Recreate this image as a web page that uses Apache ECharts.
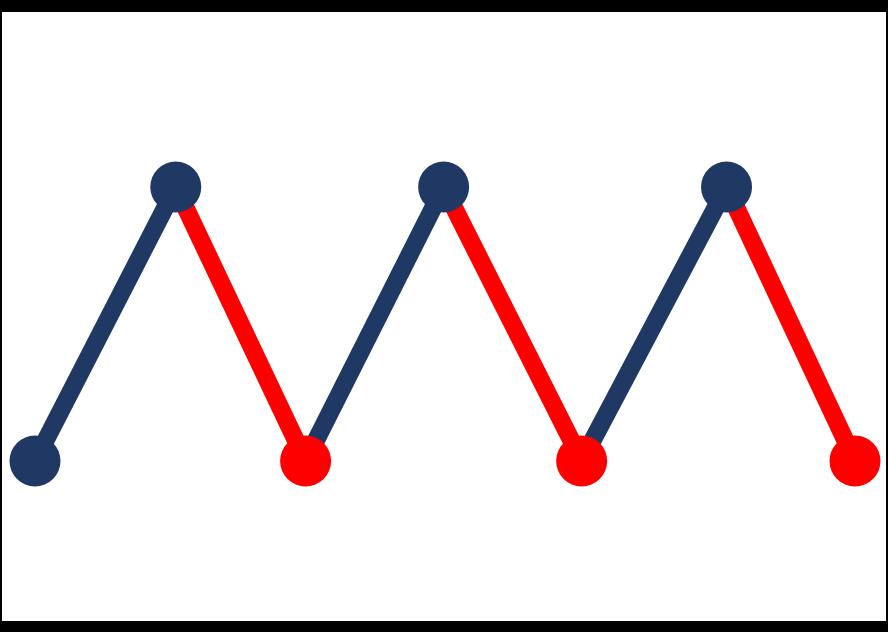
<!DOCTYPE html>
<html>
<head>
<meta charset="utf-8">
<script src="https://cdn.jsdelivr.net/npm/echarts@6/dist/echarts.min.js"></script>
<style>
  html, body { margin: 0; padding: 0; background: #000; }
  #zigzag { position: absolute; left: 2px; top: 12px; width: 884px; height: 609px; background: #fff; }
</style>
</head>
<body>
<div id="zigzag"></div>
<script>
// point positions
var xVals = [0, 1.03, 1.98, 2.99, 4.0, 5.06, 6];
var yVals = [0, 1, 0, 1, 0, 1, 0];
var segmentColors = ['#1F3864', '#FF0000', '#1F3864', '#FF0000', '#1F3864', '#FF0000'];
var pointColors = ['#1F3864', '#1F3864', '#FF0000', '#1F3864', '#FF0000', '#1F3864', '#FF0000'];

var series = [];
// one line series per segment so each gets its own colour
for (var i = 0; i < xVals.length - 1; i++) {
    series.push({
        type: 'line',
        data: [[xVals[i], yVals[i]], [xVals[i + 1], yVals[i + 1]]],
        showSymbol: false,
        lineStyle: { color: segmentColors[i], width: 18 },
        z: 2,
        silent: true
    });
}
series.push({
    type: 'scatter',
    symbolSize: 51,
    data: xVals.map(function (x, i) {
        return { value: [x, yVals[i]], itemStyle: { color: pointColors[i], opacity: 1 } };
    }),
    z: 3,
    silent: true
});

option = {
    animation: false,
    grid: { left: 33, right: 31, top: 175, bottom: 160 },
    xAxis: { type: 'value', min: 0, max: 6, show: false },
    yAxis: { type: 'value', min: 0, max: 1, show: false },
    series: series
};

var myChart = echarts.init(document.getElementById('zigzag'));
myChart.setOption(option);
</script>
</body>
</html>
